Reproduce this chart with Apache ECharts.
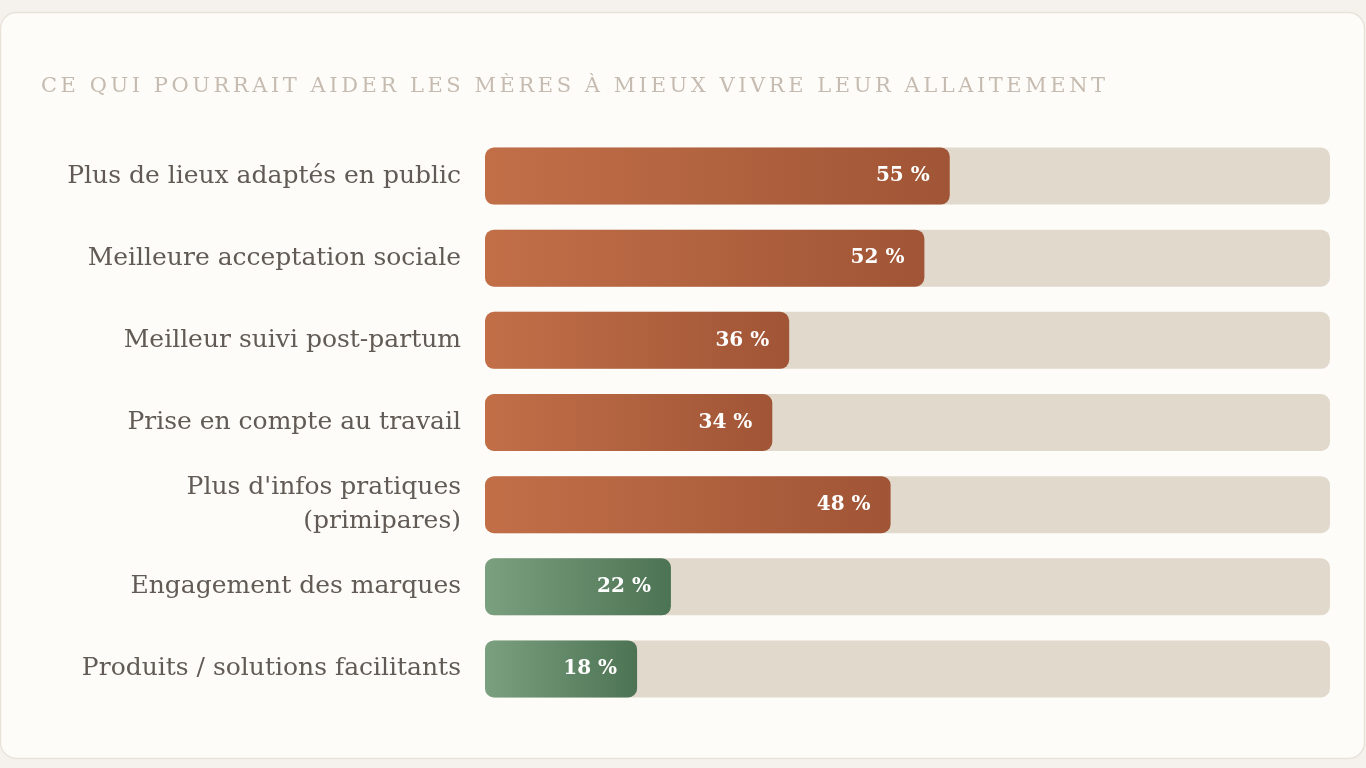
<!DOCTYPE html>
<html><head><meta charset="utf-8">
<script src="https://cdn.jsdelivr.net/npm/echarts@6/dist/echarts.min.js"></script>
<style>
html,body{margin:0;padding:0;background:#f5f2ee;}
#wrap{position:relative;width:1366px;height:768px;}
#chart{position:absolute;left:0;top:0;width:1366px;height:768px;}
#title{position:absolute;left:41px;top:73px;font-family:"DejaVu Serif",serif;font-size:21px;letter-spacing:3.55px;color:#c6bbb0;white-space:nowrap;}
</style></head>
<body><div id="wrap"><div id="chart"></div><div id="title">CE QUI POURRAIT AIDER LES MÈRES À MIEUX VIVRE LEUR ALLAITEMENT</div></div>
<script>
const categories = ["Plus de lieux adaptés en public","Meilleure acceptation sociale","Meilleur suivi post-partum","Prise en compte au travail","Plus d'infos pratiques\n(primipares)","Engagement des marques","Produits / solutions facilitants"];
const values = [55, 52, 36, 34, 48, 22, 18];
const groups = ["care","care","care","care","care","brand","brand"];

const grads = {
  care: new echarts.graphic.LinearGradient(0,0,1,0,[{offset:0,color:'#c26f48'},{offset:1,color:'#a05536'}]),
  brand: new echarts.graphic.LinearGradient(0,0,1,0,[{offset:0,color:'#7aa080'},{offset:1,color:'#4c7353'}])
};
const chart = echarts.init(document.getElementById('chart'));
chart.setOption({
  animation:false,
  graphic:[{type:'rect',z:-10,shape:{x:0.5,y:12.5,width:1364,height:746,r:16},style:{fill:'#fdfcf9',stroke:'#e9e2d9',lineWidth:1.5}}],
  grid:{left:485,right:36,top:135,bottom:58},
  xAxis:{type:'value',min:0,max:100,show:false},
  yAxis:{type:'category',inverse:true,data:categories,axisLine:{show:false},axisTick:{show:false},
    axisLabel:{margin:24,fontFamily:'DejaVu Serif',fontSize:25,color:'#625b55',align:'right',lineHeight:34}},
  series:[{type:'bar',barWidth:57,
    showBackground:true,backgroundStyle:{color:'#e2d9cd',borderRadius:9},
    data:values.map((v,i)=>({value:v,itemStyle:{color:grads[groups[i]],borderRadius:9}})),
    label:{show:true,position:'insideRight',distance:20,formatter:'{c} %',color:'#fff',fontFamily:'DejaVu Serif',fontWeight:'bold',fontSize:20}
  }]
});
</script></body></html>
